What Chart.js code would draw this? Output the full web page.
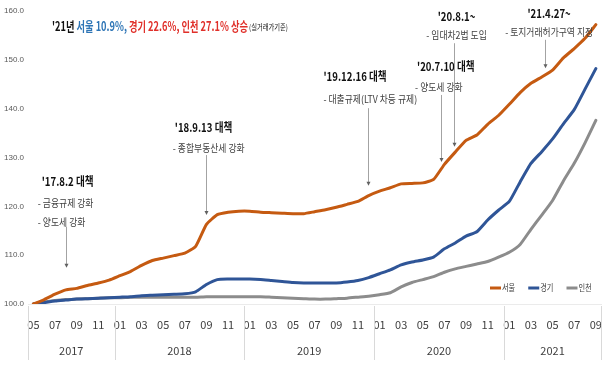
<!DOCTYPE html>
<html><head><meta charset="utf-8">
<script src="https://cdn.jsdelivr.net/npm/chart.js@4.4.0/dist/chart.umd.min.js"></script>
<style>html,body{margin:0;padding:0;background:#fff}#wrap{width:616px;height:375px;position:relative}</style>
</head><body><div id="wrap"><canvas id="c" width="616" height="375"></canvas></div>
<script>
const categories = [
 '2017-05','2017-06','2017-07','2017-08','2017-09','2017-10','2017-11','2017-12',
 '2018-01','2018-02','2018-03','2018-04','2018-05','2018-06','2018-07','2018-08','2018-09','2018-10','2018-11','2018-12',
 '2019-01','2019-02','2019-03','2019-04','2019-05','2019-06','2019-07','2019-08','2019-09','2019-10','2019-11','2019-12',
 '2020-01','2020-02','2020-03','2020-04','2020-05','2020-06','2020-07','2020-08','2020-09','2020-10','2020-11','2020-12',
 '2021-01','2021-02','2021-03','2021-04','2021-05','2021-06','2021-07','2021-08','2021-09'];
const years = ['2017','2018','2019','2020','2021'];
const seoul = [100.0,100.9,102.0,102.9,103.2,103.8,104.3,104.9,
 105.8,106.7,107.9,108.9,109.4,109.9,110.4,111.8,116.3,118.3,118.8,119.0,
 119.0,118.8,118.7,118.6,118.5,118.5,118.9,119.3,119.8,120.4,121.0,122.2,
 123.1,123.8,124.6,124.7,124.8,125.5,128.6,131.1,133.5,134.6,136.8,138.6,
 140.9,143.3,145.2,146.5,147.9,150.4,152.3,154.4,157.2];
const gyeonggi = [100.0,100.3,100.6,100.8,101.0,101.1,101.2,101.3,
 101.4,101.5,101.7,101.8,101.9,102.0,102.1,102.5,104.0,105.0,105.1,105.1,
 105.1,105.0,104.8,104.6,104.4,104.3,104.3,104.3,104.3,104.5,104.8,105.4,
 106.2,107.0,108.0,108.6,109.0,109.6,111.3,112.5,113.9,114.8,117.2,119.2,
 121.0,125.0,128.8,131.2,133.8,136.9,139.8,144.0,148.2];
const incheon = [100.0,100.4,100.7,100.9,101.0,101.1,101.2,101.3,
 101.3,101.4,101.4,101.4,101.4,101.4,101.4,101.4,101.5,101.5,101.5,101.5,
 101.5,101.5,101.4,101.3,101.2,101.1,101.0,101.0,101.1,101.2,101.4,101.6,
 101.9,102.3,103.5,104.4,105.0,105.6,106.5,107.2,107.7,108.2,108.7,109.6,
 110.6,112.2,115.3,118.2,121.2,125.2,128.8,133.0,137.6];
const seriesNames = ['서울','경기','인천'];
const yTicks = [100,110,120,130,140,150,160];

// annotations: [text, x (category index), y (index value)], first line is the heading
const notes = [
 {align:'left', lines:[["'17.8.2 대책",0.77,125.0],['- 금융규제 강화',0.41,120.7],['- 양도세 강화',0.41,116.8]], arrow:[3.05,115.8,107.4]},
 {align:'left', lines:[["'18.9.13 대책",13.07,136.2],['- 종합부동산세 강화',12.89,131.9]], arrow:[15.98,130.5,118.2]},
 {align:'left', lines:[["'19.12.16 대책",26.82,146.5],['- 대출규제(LTV 차등 규제)',26.82,142.0]], arrow:[30.9,140.1,124.2]},
 {align:'left', lines:[["'20.7.10 대책",35.47,148.7],['- 양도세 강화',35.29,144.4]], arrow:[37.66,142.8,129.1]},
 {align:'center', lines:[["'20.8.1~",39.12,158.8],['- 임대차2법 도입',39.12,155.1]], arrow:[38.9,153.4,132.2]},
 {align:'center', lines:[["'21.4.27~",47.68,159.6],['- 토지거래허가구역 지정',47.68,155.7]], arrow:[47.3,154.1,148.3]}
];
const titleParts = [["'21년 ",'#111'],['서울 10.9%, ','#2E75B6'],['경기 22.6%, 인천 27.1% 상승','#E0302A']];
const titleNote = '(실거래가기준)';

const COLORS = ['#C55A11','#2F5597','#8C8C8C'];
const KR = "'Noto Sans CJK KR','Noto Sans',sans-serif";

function drawCondensed(ctx, text, x, y, sx, align){
  const w = ctx.measureText(text).width*sx;
  let x0 = x;
  if(align==='center') x0 = x - w/2;
  ctx.save(); ctx.translate(x0,y); ctx.scale(sx,1); ctx.textAlign='left'; ctx.fillText(text,0,0); ctx.restore();
  return w;
}

const decor = {
  id:'decor',
  afterDraw(chart){
    const ctx = chart.ctx, xs = chart.scales.x, ys = chart.scales.y, ca = chart.chartArea;
    const step = xs.getPixelForValue(1) - xs.getPixelForValue(0);
    // year groups
    ctx.save();
    ctx.strokeStyle='#D9D9D9'; ctx.lineWidth=1;
    ctx.fillStyle='#404040'; ctx.font='11px '+KR; ctx.textAlign='center'; ctx.textBaseline='middle';
    years.forEach((yr,k)=>{
      const idx = categories.map((c,i)=>c.startsWith(yr)?i:-1).filter(i=>i>=0);
      const l = xs.getPixelForValue(idx[0]) - step/2, r = xs.getPixelForValue(idx[idx.length-1]) + step/2;
      ctx.beginPath(); ctx.moveTo(Math.round(l)+0.5, ca.bottom+2); ctx.lineTo(Math.round(l)+0.5, ca.bottom+56); ctx.stroke();
      if(k===years.length-1){ ctx.beginPath(); ctx.moveTo(Math.round(r)+0.5, ca.bottom+2); ctx.lineTo(Math.round(r)+0.5, ca.bottom+56); ctx.stroke(); }
      ctx.fillText(yr,(l+r)/2, ca.bottom+47);
    });
    ctx.restore();
    // annotations
    ctx.save();
    ctx.textBaseline='middle';
    notes.forEach(n=>{
      n.lines.forEach((ln,j)=>{
        const x = xs.getPixelForValue(ln[1]), y = ys.getPixelForValue(ln[2]);
        if(j===0){ ctx.font='bold 12px '+KR; ctx.fillStyle='#111'; drawCondensed(ctx,ln[0],x,y,0.8,n.align); }
        else { ctx.font='10px '+KR; ctx.fillStyle='#404040'; drawCondensed(ctx,ln[0],x,y,0.88,n.align); }
      });
      const ax = Math.round(xs.getPixelForValue(n.arrow[0]))+0.5, a1 = ys.getPixelForValue(n.arrow[1]), a2 = ys.getPixelForValue(n.arrow[2]);
      ctx.strokeStyle='#8C8C8C'; ctx.lineWidth=0.8;
      ctx.beginPath(); ctx.moveTo(ax,a1); ctx.lineTo(ax,a2-3); ctx.stroke();
      ctx.fillStyle='#606060';
      ctx.beginPath(); ctx.moveTo(ax-2,a2-4); ctx.lineTo(ax+2,a2-4); ctx.lineTo(ax,a2); ctx.closePath(); ctx.fill();
    });
    // title
    ctx.font='bold 13px '+KR;
    const full = titleParts.map(p=>p[0]).join('');
    const sx = 196/ctx.measureText(full).width;
    let tx = 52; const ty = 26;
    titleParts.forEach(p=>{ ctx.fillStyle=p[1]; ctx.font='bold 13px '+KR; tx += drawCondensed(ctx,p[0],tx,ty,sx,'left'); });
    ctx.font='8px '+KR; ctx.fillStyle='#111';
    drawCondensed(ctx,titleNote,tx+1,ty+1,39/ctx.measureText(titleNote).width,'left');
    // legend
    ctx.font='9px '+KR; ctx.textBaseline='middle';
    let lx = 490; const ly = 288;
    seriesNames.forEach((nm,i)=>{
      ctx.strokeStyle=COLORS[i]; ctx.lineWidth=3; ctx.lineCap='butt';
      ctx.beginPath(); ctx.moveTo(lx,ly); ctx.lineTo(lx+11,ly); ctx.stroke();
      ctx.fillStyle='#404040';
      const w = drawCondensed(ctx,nm,lx+12,ly,0.8,'left');
      lx += 12 + w + 13;
    });
    ctx.restore();
  }
};

new Chart(document.getElementById('c'),{
  type:'line',
  data:{labels:categories, datasets:[
    {label:seriesNames[0], data:seoul, borderColor:COLORS[0]},
    {label:seriesNames[1], data:gyeonggi, borderColor:COLORS[1]},
    {label:seriesNames[2], data:incheon, borderColor:COLORS[2]}
  ]},
  options:{
    responsive:false, animation:false,
    layout:{padding:{top:11,right:6,left:0,bottom:0}},
    plugins:{legend:{display:false}, tooltip:{enabled:false}},
    elements:{point:{radius:0}, line:{borderWidth:3, tension:0.15, borderCapStyle:'round', borderJoinStyle:'round'}},
    scales:{
      x:{type:'category', offset:true,
         grid:{display:false, drawTicks:false},
         border:{display:true, color:'#EBEBEB'},
         ticks:{autoSkip:false, maxRotation:0, minRotation:0, padding:14, color:'#404040', font:{size:11, family:KR},
                callback:(v,i)=> i%2===0 ? categories[i].slice(5) : ''},
         afterFit:s=>{s.height=71;}},
      y:{min:100, max:160,
         afterBuildTicks:s=>{s.ticks = yTicks.map(v=>({value:v}));},
         ticks:{callback:v=>Number(v).toFixed(1), color:'#595959', font:{size:8, family:"'Liberation Sans',sans-serif"}, padding:4},
         grid:{display:false, drawTicks:false, tickLength:0}, border:{display:false},
         afterFit:s=>{s.width=28;}}
    }
  },
  plugins:[decor]
});
</script></body></html>
